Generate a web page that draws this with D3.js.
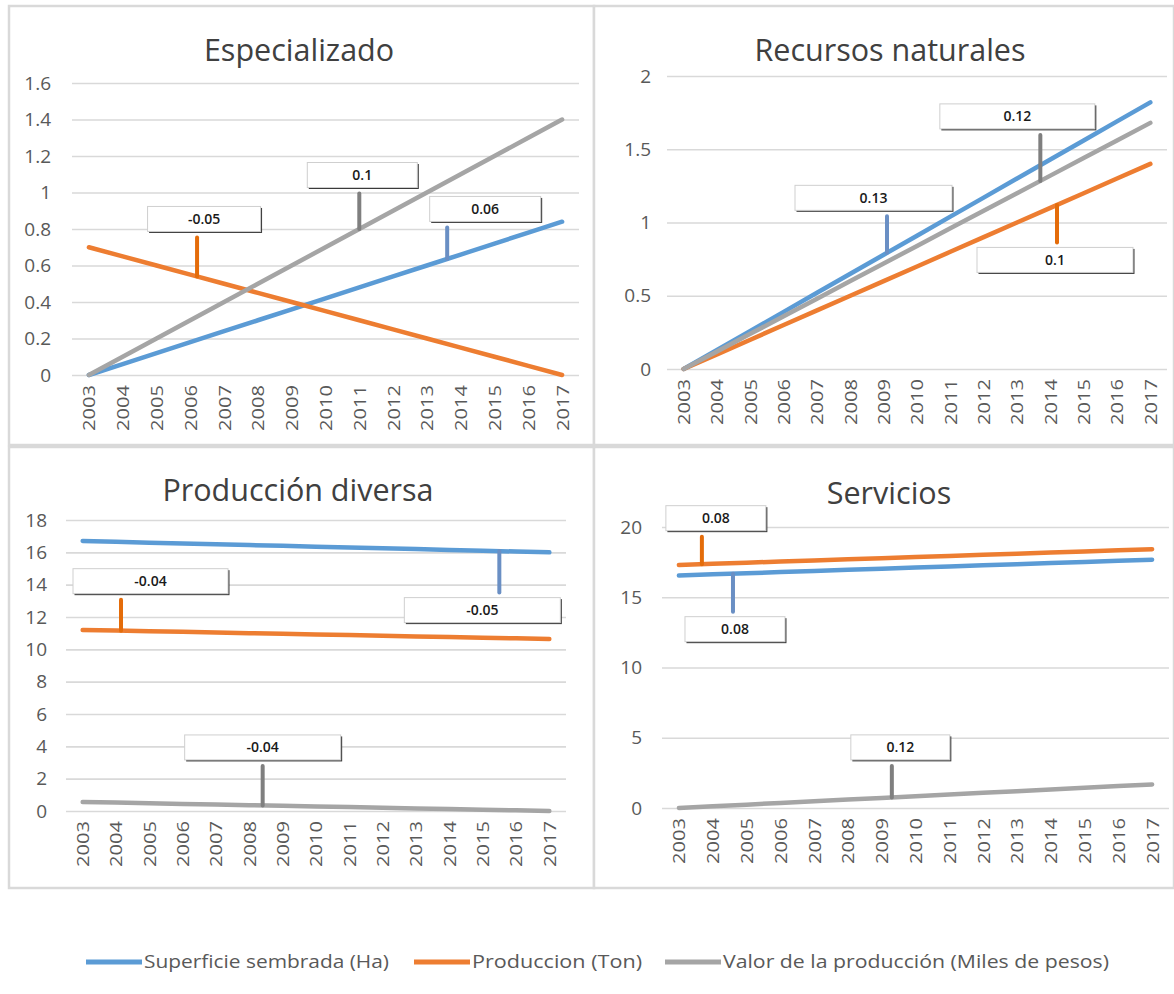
<!DOCTYPE html>
<html><head><meta charset="utf-8">
<script src="https://cdn.jsdelivr.net/npm/d3@7"></script>
<style>body{margin:0;background:#fff;} svg{display:block;font-family:'Open Sans',sans-serif;}</style>
</head><body><svg id="c" width="1174" height="994"></svg>
<script>
// ---------- DATA ----------
const years = ['2003','2004','2005','2006','2007','2008','2009','2010','2011','2012','2013','2014','2015','2016','2017'];
const seriesNames = ['Superficie sembrada (Ha)', 'Produccion (Ton)', 'Valor de la producción (Miles de pesos)'];

const espSup  = [0, 0.06, 0.12, 0.18, 0.24, 0.30, 0.36, 0.42, 0.48, 0.54, 0.60, 0.66, 0.72, 0.78, 0.84];
const espProd = [0.70, 0.65, 0.60, 0.55, 0.50, 0.45, 0.40, 0.35, 0.30, 0.25, 0.20, 0.15, 0.10, 0.05, 0.00];
const espVal  = [0, 0.1, 0.2, 0.3, 0.4, 0.5, 0.6, 0.7, 0.8, 0.9, 1.0, 1.1, 1.2, 1.3, 1.4];
const espTicks = ['0','0.2','0.4','0.6','0.8','1','1.2','1.4','1.6'];
const espCallouts = [{series:1, at:3.2, text:'-0.05'}, {series:2, at:8.0, text:'0.1'}, {series:0, at:10.6, text:'0.06'}];

const recSup  = [0, 0.13, 0.26, 0.39, 0.52, 0.65, 0.78, 0.91, 1.04, 1.17, 1.30, 1.43, 1.56, 1.69, 1.82];
const recProd = [0, 0.10, 0.20, 0.30, 0.40, 0.50, 0.60, 0.70, 0.80, 0.90, 1.00, 1.10, 1.20, 1.30, 1.40];
const recVal  = [0, 0.12, 0.24, 0.36, 0.48, 0.60, 0.72, 0.84, 0.96, 1.08, 1.20, 1.32, 1.44, 1.56, 1.68];
const recTicks = ['0','0.5','1','1.5','2'];
const recCallouts = [{series:0, at:6.1, text:'0.13'}, {series:2, at:10.7, text:'0.12'}, {series:1, at:11.2, text:'0.1'}];

const divSup  = [16.7, 16.65, 16.6, 16.55, 16.5, 16.45, 16.4, 16.35, 16.3, 16.25, 16.2, 16.15, 16.1, 16.05, 16.0];
const divProd = [11.2, 11.16, 11.12, 11.08, 11.04, 11.0, 10.96, 10.92, 10.88, 10.84, 10.8, 10.76, 10.72, 10.68, 10.64];
const divVal  = [0.56, 0.52, 0.48, 0.44, 0.40, 0.36, 0.32, 0.28, 0.24, 0.20, 0.16, 0.12, 0.08, 0.04, 0.0];
const divTicks = ['0','2','4','6','8','10','12','14','16','18'];
const divCallouts = [{series:1, at:1.15, text:'-0.04'}, {series:0, at:12.5, text:'-0.05'}, {series:2, at:5.4, text:'-0.04'}];

const serSup  = [16.55, 16.63, 16.71, 16.79, 16.87, 16.95, 17.03, 17.11, 17.19, 17.27, 17.35, 17.43, 17.51, 17.59, 17.67];
const serProd = [17.3, 17.38, 17.46, 17.54, 17.62, 17.7, 17.78, 17.86, 17.94, 18.02, 18.1, 18.18, 18.26, 18.34, 18.42];
const serVal  = [0, 0.12, 0.24, 0.36, 0.48, 0.60, 0.72, 0.84, 0.96, 1.08, 1.20, 1.32, 1.44, 1.56, 1.68];
const serTicks = ['0','5','10','15','20'];
const serCallouts = [{series:1, at:0.68, text:'0.08'}, {series:0, at:1.6, text:'0.08'}, {series:2, at:6.3, text:'0.12'}];

// ---------- STYLE / LAYOUT ----------
const colors = ['#5b9bd5', '#ed7d31', '#a5a5a5'];
const leaderColors = ['#6a8fc4', '#e46c0a', '#7f7f7f'];

const panels = [
  {title:'Especializado', series:[espSup, espProd, espVal], ticks:espTicks, callouts:espCallouts,
   frame:[9,6,594,445], plot:[72,579,83,375], titleX:299, titleY:61, tickGap:21,
   boxes:[{dx:7,dy:-57.5,w:113},{dx:3,dy:-54,w:110},{dx:38,dy:-50,w:111}]},
  {title:'Recursos naturales', series:[recSup, recProd, recVal], ticks:recTicks, callouts:recCallouts,
   frame:[594,6,1174,445], plot:[667,1167,76,369], titleX:890, titleY:61, tickGap:16,
   boxes:[{dx:-13.5,dy:-55,w:157},{dx:-23,dy:-64.5,w:155},{dx:-2,dy:55,w:156}]},
  {title:'Producción diversa', series:[divSup, divProd, divVal], ticks:divTicks, callouts:divCallouts,
   frame:[9,447,594,888], plot:[66,566,520,811], titleX:298, titleY:501, tickGap:19,
   boxes:[{dx:29.5,dy:-49.5,w:155},{dx:-17,dy:59,w:156},{dx:0,dy:-58,w:156}]},
  {title:'Servicios', series:[serSup, serProd, serVal], ticks:serTicks, callouts:serCallouts,
   frame:[594,447,1174,888], plot:[662,1169,527,808], titleX:889, titleY:504, tickGap:20,
   boxes:[{dx:14,dy:-46,w:100},{dx:2,dy:55.5,w:100},{dx:8.5,dy:-50,w:99}]}
];

const svg = d3.select('#c');

panels.forEach(p => {
  const [fx0, fy0, fx1, fy1] = p.frame;
  const [px0, px1, py0, py1] = p.plot;
  const g = svg.append('g');
  g.append('rect').attr('x', fx0).attr('y', fy0).attr('width', fx1 - fx0).attr('height', fy1 - fy0)
    .attr('fill', '#fff').attr('stroke', '#d9d9d9').attr('stroke-width', 2.5);

  const tickVals = p.ticks.map(Number);
  const y = d3.scaleLinear().domain([0, d3.max(tickVals)]).range([py1, py0]);
  const x = d3.scalePoint().domain(years).range([px0, px1]).padding(0.5);

  // gridlines + y labels
  const yAxis = d3.axisLeft(y).tickValues(tickVals).tickSize(-(px1 - px0)).tickPadding(p.tickGap)
    .tickFormat((d, i) => p.ticks[i]);
  const ya = g.append('g').attr('transform', `translate(${px0},0)`).call(yAxis);
  ya.select('.domain').remove();
  ya.selectAll('.tick line').attr('stroke', '#d9d9d9').attr('stroke-width', 1.6);
  ya.selectAll('.tick text').attr('fill', '#595959').style('font-size', '19px')
    .style('font-family', "'Open Sans', sans-serif");

  // x axis labels
  const xAxis = d3.axisBottom(x).tickSize(0).tickPadding(0);
  const xa = g.append('g').attr('transform', `translate(0,${py1})`).call(xAxis);
  xa.select('.domain').remove();
  xa.selectAll('.tick text')
    .attr('transform', 'rotate(-90)')
    .attr('x', -10).attr('y', 0).attr('dy', '0.35em')
    .attr('text-anchor', 'end')
    .attr('fill', '#595959').style('font-size', '17px')
    .style('font-family', "'Open Sans', sans-serif")
    .attr('textLength', 46).attr('lengthAdjust', 'spacingAndGlyphs');

  // title
  g.append('text').attr('x', p.titleX).attr('y', p.titleY).attr('text-anchor', 'middle')
    .attr('fill', '#404040').style('font-size', '30.5px').text(p.title);

  // lines
  const line = d3.line().x((d, i) => x(years[i])).y(d => y(d));
  p.series.forEach((s, si) => {
    g.append('path').datum(s).attr('d', line).attr('fill', 'none')
      .attr('stroke', colors[si]).attr('stroke-width', 4.5)
      .attr('stroke-linecap', 'round').attr('stroke-linejoin', 'round');
  });

  // callouts
  const step = x.step();
  p.callouts.forEach((c, ci) => {
    const b = p.boxes[ci];
    const s = p.series[c.series];
    const i0 = Math.floor(c.at), fr = c.at - i0;
    const v = s[i0] + (s[Math.min(i0 + 1, s.length - 1)] - s[i0]) * fr;
    const ax = x(years[i0]) + fr * step;
    const ay = y(v);
    const h = 25;
    const cx = ax + b.dx, cy = ay + b.dy;
    const bx = cx - b.w / 2, by = cy - h / 2;
    const lEnd = b.dy < 0 ? by + h + 6 : by - 5;
    g.append('line').attr('x1', ax).attr('x2', ax).attr('y1', ay).attr('y2', lEnd)
      .attr('stroke', leaderColors[c.series]).attr('stroke-width', 4).attr('stroke-linecap', 'round');
    g.append('rect').attr('x', bx + 1.5).attr('y', by + 1.5).attr('width', b.w).attr('height', h)
      .attr('fill', '#3a3a3a');
    g.append('rect').attr('x', bx).attr('y', by).attr('width', b.w).attr('height', h)
      .attr('fill', '#fff').attr('stroke', '#cfcfcf').attr('stroke-width', 1);
    g.append('text').attr('x', cx).attr('y', cy).attr('dy', '0.36em').attr('text-anchor', 'middle')
      .attr('fill', '#1a1a1a').style('font-size', '14px').style('font-weight', '600')
      .text(c.text);
  });
});

// legend
const legendLayout = [{x:86, tw:245}, {x:414, tw:170}, {x:665, tw:386}];
const lg = svg.append('g').attr('transform', 'translate(0,962)');
seriesNames.forEach((n, i) => {
  const L = legendLayout[i];
  lg.append('line').attr('x1', L.x).attr('x2', L.x + 56).attr('y1', 0).attr('y2', 0)
    .attr('stroke', colors[i]).attr('stroke-width', 5);
  lg.append('text').attr('x', L.x + 58).attr('y', 0).attr('dy', '0.35em')
    .attr('fill', '#595959').style('font-size', '18px')
    .attr('textLength', L.tw).attr('lengthAdjust', 'spacingAndGlyphs').text(n);
});
</script></body></html>
